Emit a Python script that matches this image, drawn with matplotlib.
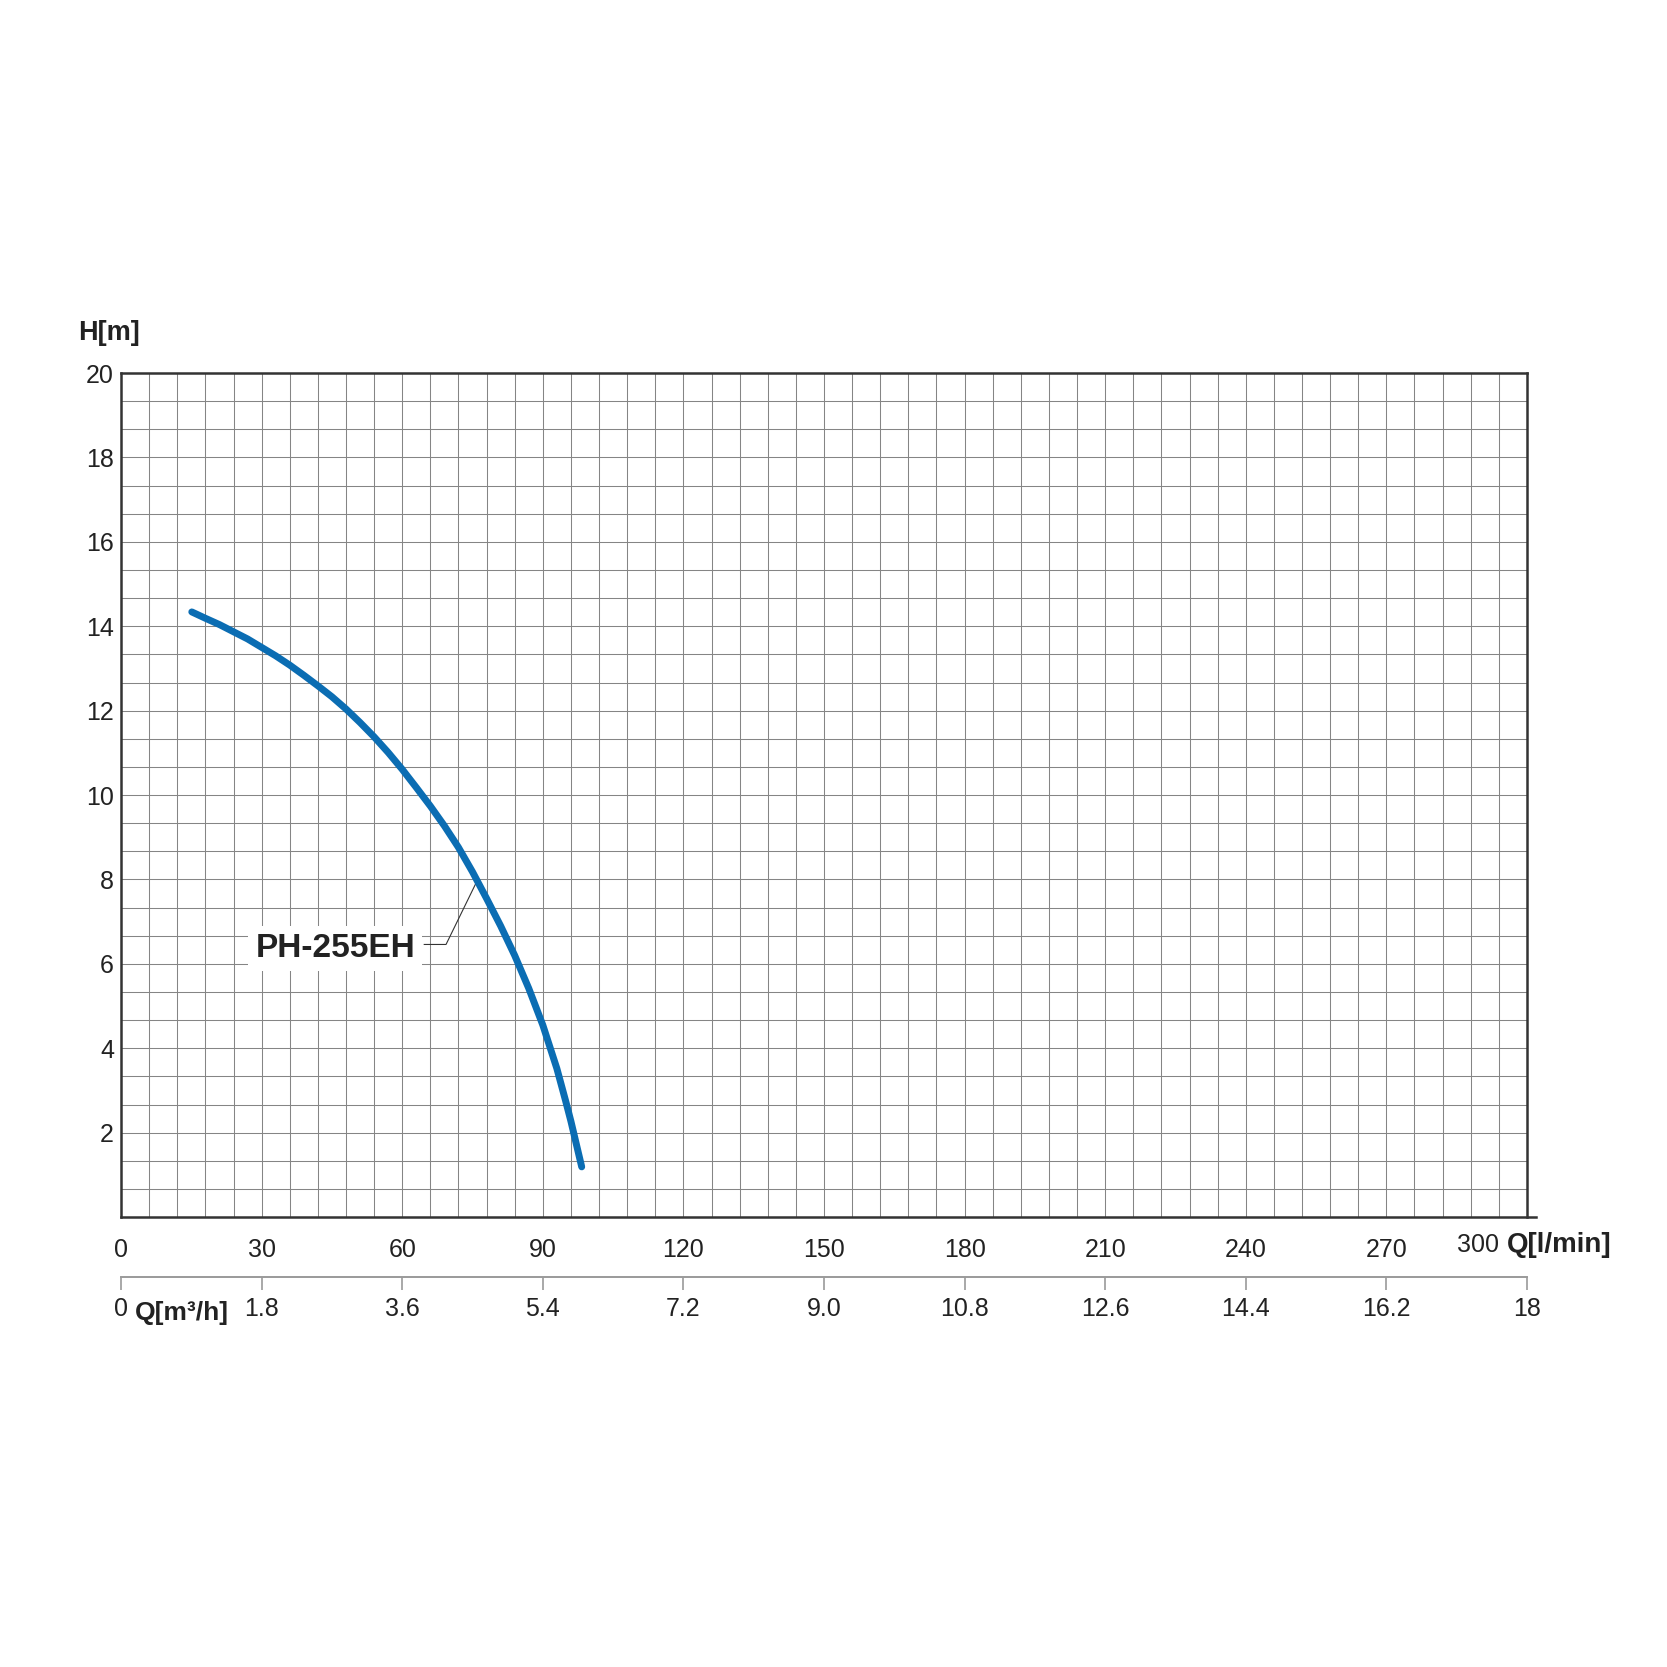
import numpy as np
import matplotlib
matplotlib.use("Agg")
import matplotlib.pyplot as plt

plt.rcParams['font.family'] = ['Liberation Sans', 'DejaVu Sans']

# Pump curve PH-255EH (Q in l/min, H in m)
q_lmin = [15.1, 18, 21, 24, 27, 30, 33, 36, 39, 42, 45, 48, 51, 54, 57, 60,
          63, 66, 69, 72, 75, 78, 81, 84, 87, 90, 93, 94.9, 96, 98.3]
head_m = [14.34, 14.19, 14.04, 13.87, 13.70, 13.50, 13.30, 13.08, 12.84, 12.59,
          12.33, 12.04, 11.72, 11.38, 11.01, 10.61, 10.18, 9.74, 9.27, 8.76,
          8.18, 7.55, 6.90, 6.20, 5.42, 4.55, 3.52, 2.74, 2.27, 1.19]
model_name = "PH-255EH"

x_ticks = [0, 30, 60, 90, 120, 150, 180, 210, 240, 270, 300]
y_ticks = [2, 4, 6, 8, 10, 12, 14, 16, 18, 20]
m3h_ticks = [0, 1.8, 3.6, 5.4, 7.2, 9.0, 10.8, 12.6, 14.4, 16.2, 18]
m3h_labels = ['0', '1.8', '3.6', '5.4', '7.2', '9.0', '10.8', '12.6', '14.4', '16.2', '18']

TXT = '#222222'
GRID = '#858585'
CURVE = '#0b6db3'

fig = plt.figure(figsize=(16.67, 16.67), dpi=100)
ax = fig.add_axes([0.0726, 0.2699, 0.8434, 0.5063])

ax.set_xlim(0, 300)
ax.set_ylim(0, 20)

# grid: 6 l/min by 2/3 m cells
for gx in np.arange(6, 300, 6):
    ax.axvline(gx, color=GRID, lw=0.75, zorder=1)
for gy in np.arange(1, 30) * (2 / 3):
    ax.axhline(gy, color=GRID, lw=0.75, zorder=1)

ax.plot(q_lmin, head_m, color=CURVE, lw=5, solid_capstyle='round',
        solid_joinstyle='round', zorder=4)

# model label with leader line
ax.plot([64.7, 69.35, 75.9], [6.46, 6.46, 7.95], color='#333333', lw=0.8, zorder=3)
ax.text(45.7, 6.37, model_name, fontsize=24, fontweight='bold', color=TXT,
        ha='center', va='center', zorder=5,
        bbox=dict(facecolor='white', edgecolor='none', pad=5))

for s in ax.spines.values():
    s.set_color('#333333')
    s.set_linewidth(1.8)
ax.spines['bottom'].set_bounds(0, 302)

ax.set_xticks(x_ticks)
ax.set_xticklabels([str(v) for v in x_ticks[:-1]] + [''])
ax.set_yticks(y_ticks)
ax.tick_params(axis='x', length=0, pad=15, labelsize=18, labelcolor=TXT)
ax.tick_params(axis='y', length=0, pad=5, labelsize=18, labelcolor=TXT)

ax.text(289.5, -0.66, '300', fontsize=18, color=TXT, ha='center', va='center')
ax.text(295.7, -0.66, 'Q[l/min]', fontsize=20, fontweight='bold', color=TXT,
        ha='left', va='center')
ax.text(-0.0306, 1.047, 'H[m]', transform=ax.transAxes, fontsize=19.5,
        fontweight='bold', color=TXT, ha='left', va='center')

# second flow scale in m3/h
sec = ax.secondary_xaxis(-0.071, functions=(lambda v: v * 0.06, lambda v: v / 0.06))
sec.set_xticks(m3h_ticks)
sec.set_xticklabels(m3h_labels)
sec.tick_params(length=9.5, width=1.2, color='#9a9a9a', pad=5, labelsize=18,
                labelcolor=TXT)
sec.spines['bottom'].set_color('#9a9a9a')
sec.spines['bottom'].set_linewidth(1.4)
ax.text(3.0, -2.28, 'Q[m³/h]', fontsize=19, fontweight='bold', color=TXT,
        ha='left', va='center')

fig.savefig('out.png', dpi=100, facecolor='white')
